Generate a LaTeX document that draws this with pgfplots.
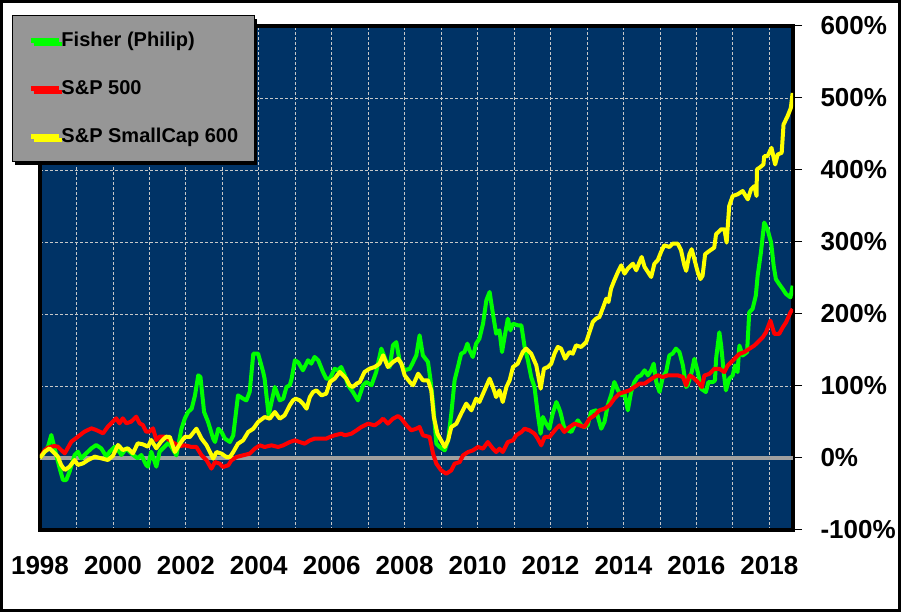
\documentclass[border=0pt]{standalone}
\usepackage{fontspec}
\setmainfont{Liberation Sans}
\usepackage{pgfplots}
\pgfplotsset{compat=1.18}
\usetikzlibrary{shadows}
\definecolor{navy}{RGB}{0,51,102}
\definecolor{leggray}{RGB}{150,150,150}
\definecolor{gridc}{RGB}{200,200,200}
\definecolor{zeroc}{RGB}{160,160,160}
\begin{document}
\begin{tikzpicture}[x=1pt,y=1pt]
\useasboundingbox (0,0) rectangle (901,612);
\draw[line width=3pt] (1.5,1.5) rectangle (899.5,610.5);
\begin{axis}[
  at={(40pt,82pt)}, anchor=south west,
  width=753pt, height=504pt, scale only axis,
  xmin=1998, xmax=2018.65, ymin=-100, ymax=600,
  axis background/.style={fill=navy},
  axis line style={line width=3.5pt},
  xtick={1998,2000,...,2018},
  minor xtick={1999,2001,...,2017},
  ytick={-100,0,...,600},
  grid=both,
  major grid style={gridc, line width=0.8pt, dash pattern=on 3pt off 2pt},
  minor grid style={gridc, line width=0.8pt, dash pattern=on 3pt off 2pt},
  xtick style={draw=none},
  minor tick length=0pt,
  ytick style={black, line width=1pt},
  tick align=outside,
  major tick length=9pt,
  ytick pos=right,
  yticklabel pos=right,
  yticklabel={\pgfmathprintnumber{\tick}\%},
  yticklabel style={anchor=west, xshift=15pt},
  xticklabel style={yshift=-14pt},
  tick label style={font=\bfseries\fontsize{26}{26}\selectfont},
  /pgf/number format/1000 sep={},
  /pgf/number format/assume math mode=true,
  legend cell align=left,
  legend image code/.code={\draw[#1,line width=5pt] (0pt,0pt) -- (28pt,0pt);},
  legend style={at={(-0.0372,1.0218)}, anchor=north west,
    fill=leggray, draw=black, line width=1pt,
    inner xsep=16pt, inner ysep=15.5pt,
    row sep=29pt, column sep=0pt,
    font=\bfseries\fontsize{20}{20}\selectfont,
    nodes={inner sep=0pt, text height=15pt, text depth=4pt},
    drop shadow={shadow xshift=3pt, shadow yshift=-3pt, opacity=1, fill=black}},
  every axis plot/.append style={line width=4pt, line join=round},
]
\addplot[zeroc, line width=4pt, forget plot] coordinates {(1998,0) (2018.65,0)};

\addplot[color={rgb,255:red,0;green,255;blue,0}] table {
1998.00 0
1998.13 8.8
1998.22 15.7
1998.31 32
1998.40 13.4
1998.54 -14.4
1998.63 -30.6
1998.72 -30.6
1998.81 -19
1998.95 4.2
1999.04 8.8
1999.13 -0.5
1999.22 4.2
1999.41 13.4
1999.54 18
1999.68 13.4
1999.82 1.9
1999.91 8.8
2000.05 15.7
2000.14 11
2000.23 4.2
2000.37 13.4
2000.50 6.5
2000.68 -0.5
2000.78 4.2
2000.91 -9.7
2000.96 -12
2001.05 8.8
2001.19 -12
2001.28 8.8
2001.37 13.4
2001.52 21
2001.61 15
2001.74 3.7
2001.88 40.7
2001.97 54.6
2002.06 63.9
2002.16 68.5
2002.25 87
2002.34 114.8
2002.40 112.5
2002.50 63.9
2002.61 50
2002.75 26.9
2002.80 22.2
2002.89 40.7
2002.98 36.1
2003.07 26.9
2003.21 22.2
2003.30 31.5
2003.43 87
2003.57 82.4
2003.66 80
2003.75 91.7
2003.85 145
2003.98 145
2004.12 119.5
2004.16 110
2004.27 59.3
2004.44 98.6
2004.575 80
2004.67 82.4
2004.76 98.6
2004.85 101
2004.90 110
2004.99 135.7
2005.08 133
2005.21 121.8
2005.35 135.7
2005.44 131
2005.53 140.3
2005.63 135.7
2005.76 119.5
2005.85 110.2
2005.95 110.2
2006.08 124
2006.17 121.8
2006.26 126.4
2006.36 114.8
2006.45 101
2006.58 91.7
2006.72 80
2006.86 101
2006.95 105.6
2007.09 101
2007.22 119.5
2007.36 151.9
2007.50 133.3
2007.59 126.4
2007.68 156.5
2007.77 161
2007.86 135.7
2008.00 121.8
2008.14 124
2008.23 133
2008.32 142.6
2008.41 170.4
2008.50 142.6
2008.64 133.3
2008.71 107.9
2008.78 75.5
2008.87 19.9
2008.96 15.3
2009.10 10.6
2009.19 24.5
2009.28 61.6
2009.37 107.9
2009.46 126.4
2009.55 144.9
2009.64 147.2
2009.72 158.8
2009.78 149.5
2009.87 140.3
2009.96 158.8
2010.05 165.8
2010.15 186.6
2010.24 219
2010.33 230.6
2010.42 200.5
2010.51 172.7
2010.60 177.3
2010.67 147.2
2010.74 168
2010.83 193.5
2010.90 177.3
2010.97 186.6
2011.10 184.3
2011.20 184.3
2011.29 154.2
2011.38 135.7
2011.47 112.5
2011.56 98.6
2011.65 61.6
2011.73 33.8
2011.79 57
2011.88 47.7
2011.97 40.7
2012.06 61.6
2012.16 77.8
2012.20 73.2
2012.27 63.9
2012.37 43
2012.475 38.4
2012.57 36.1
2012.66 45.4
2012.75 52.3
2012.84 45.4
2012.93 43
2013.02 45.4
2013.11 63.9
2013.25 66.2
2013.39 40.7
2013.48 50
2013.57 73.2
2013.66 87
2013.75 105.6
2013.85 94
2013.94 87
2014.03 89.4
2014.12 66.2
2014.21 91.7
2014.30 105.6
2014.39 112.5
2014.48 114.8
2014.58 121.8
2014.67 114.8
2014.76 121.8
2014.83 131
2014.90 105.6
2014.99 91.7
2015.08 112.5
2015.17 119.5
2015.26 142.6
2015.35 145
2015.44 151.9
2015.535 147.2
2015.63 128.7
2015.72 98.6
2015.76 100.8
2015.87 119.3
2015.945 137.7
2016.04 119.3
2016.13 96.2
2016.26 91.6
2016.33 105.4
2016.45 105.4
2016.51 107.7
2016.54 137.7
2016.63 174.6
2016.68 156.2
2016.75 119.3
2016.81 93.9
2016.90 110
2016.995 114.6
2017.06 128.5
2017.13 119.3
2017.18 156.2
2017.27 142.3
2017.39 147
2017.45 202.3
2017.54 207
2017.63 225.4
2017.68 253
2017.77 285.4
2017.86 327
2017.95 317.7
2018.05 299.2
2018.12 266.9
2018.18 248.5
2018.27 241.6
2018.37 234.6
2018.46 227.7
2018.58 223.1
2018.64 239.3
};
\addlegendentry{Fisher (Philip)}

\addplot[color={rgb,255:red,255;green,0;blue,0}] table {
1998.00 0
1998.13 11.1
1998.22 14.4
1998.40 16.7
1998.49 15.7
1998.58 11.1
1998.68 6.5
1998.86 22.7
1999.04 29.6
1999.22 36.6
1999.41 41.2
1999.54 38.9
1999.73 34.3
1999.86 43.5
2000.00 50.5
2000.09 55.1
2000.18 48.2
2000.27 55.1
2000.37 48.2
2000.50 50.5
2000.64 57.4
2000.73 48.2
2000.82 45.8
2000.91 36.6
2001.00 36.6
2001.10 41.2
2001.19 25
2001.28 29.6
2001.42 29.6
2001.56 24.5
2001.70 19.9
2001.84 16.7
2001.97 17.6
2002.16 15.3
2002.29 15.3
2002.43 3.7
2002.57 -3.2
2002.70 -14.8
2002.80 -5.6
2002.93 -7.9
2003.02 -12.5
2003.16 -10.2
2003.25 -3.2
2003.39 1.4
2003.57 3.7
2003.75 6
2003.89 13
2004.03 17.6
2004.16 15.3
2004.35 17.6
2004.53 15.3
2004.67 17.6
2004.85 22.2
2004.99 24.5
2005.12 22.2
2005.26 19.9
2005.40 24.5
2005.53 26.9
2005.72 26.9
2005.85 26.9
2005.95 29.2
2006.08 31.5
2006.26 33.8
2006.36 31.5
2006.54 33.8
2006.68 38.4
2006.81 43
2006.995 47.7
2007.18 45.4
2007.31 50
2007.41 54.6
2007.54 47.7
2007.68 54.6
2007.82 58.3
2007.91 54.6
2008.05 45.4
2008.18 38.4
2008.32 40.7
2008.41 43
2008.50 31.5
2008.685 29.2
2008.78 6
2008.87 -7.9
2009.00 -17.1
2009.14 -21.8
2009.28 -17.1
2009.37 -7.9
2009.51 -5.6
2009.60 3.7
2009.74 8.3
2009.87 10.6
2010.01 15.3
2010.15 13
2010.28 22.2
2010.42 13
2010.51 8.3
2010.60 13
2010.69 8.3
2010.83 22.2
2010.97 24.5
2011.06 31.5
2011.20 36.1
2011.29 40.7
2011.425 38.4
2011.56 33.8
2011.65 26.9
2011.745 17.6
2011.84 29.2
2011.97 29.2
2012.155 40.7
2012.25 45.4
2012.38 36.1
2012.52 43
2012.66 47.7
2012.795 45.4
2012.93 43
2013.07 54.6
2013.21 59.3
2013.34 66.2
2013.48 68.5
2013.62 73.2
2013.75 82.4
2013.89 89.4
2014.03 91.7
2014.165 94
2014.30 98.6
2014.44 103.2
2014.58 103.2
2014.71 107.9
2014.85 112.5
2014.94 114.8
2015.08 112.5
2015.22 114.8
2015.35 114.8
2015.49 114.8
2015.63 112.5
2015.72 100.9
2015.81 114.6
2015.90 112.3
2016.04 105.4
2016.15 98.5
2016.22 114.6
2016.36 116.9
2016.49 123.9
2016.63 123.9
2016.77 119.3
2016.86 128.5
2016.995 135.4
2017.18 144.6
2017.31 147
2017.45 151.6
2017.59 156.2
2017.73 163.1
2017.82 167.7
2017.91 174.6
2018.03 190.8
2018.14 172.3
2018.27 172.3
2018.37 181.6
2018.46 188.5
2018.58 202.3
2018.64 207
};
\addlegendentry{S\&P 500}

\addplot[color={rgb,255:red,255;green,255;blue,0}] table {
1998.00 0
1998.13 8.8
1998.26 13.4
1998.40 6.5
1998.49 1.9
1998.58 -9.7
1998.68 -16.7
1998.81 -12
1998.95 -2.8
1999.04 -9.7
1999.18 -7.4
1999.32 -2.8
1999.50 1.9
1999.68 -0.5
1999.86 -2.8
2000.00 3.2
2000.14 18.1
2000.27 11.1
2000.41 13.4
2000.55 6.5
2000.68 20.4
2000.82 19
2000.96 15.7
2001.05 25
2001.19 13.4
2001.32 22.7
2001.46 29.6
2001.56 29.2
2001.70 8.3
2001.84 19.9
2001.97 29.2
2002.11 29.2
2002.29 40.7
2002.43 26.9
2002.57 17.6
2002.75 -0.9
2002.84 8.3
2002.98 6
2003.11 1.4
2003.21 1.4
2003.30 8.3
2003.43 19.9
2003.57 24.5
2003.71 36.1
2003.85 40.7
2003.98 50
2004.16 56.9
2004.30 54.6
2004.44 63.9
2004.575 54.6
2004.71 59.3
2004.85 73.2
2004.94 80.1
2005.01 82.4
2005.12 80.1
2005.21 75.5
2005.31 68.5
2005.40 84.7
2005.49 91.7
2005.58 94
2005.72 87
2005.85 89.4
2005.95 105.6
2006.08 110.2
2006.22 119.5
2006.31 114.8
2006.40 110.2
2006.49 101
2006.58 98.6
2006.68 103.2
2006.77 105.6
2006.90 119.5
2007.04 124.1
2007.18 126.4
2007.31 131
2007.41 142.6
2007.54 126.4
2007.68 133.3
2007.82 138
2007.91 131
2008.00 114.8
2008.14 105.6
2008.23 101
2008.37 117.1
2008.50 107.9
2008.64 107.9
2008.73 94
2008.80 56.9
2008.90 33.8
2009.00 24.5
2009.10 15.3
2009.19 24.5
2009.28 43
2009.42 47.7
2009.55 61.6
2009.69 75.5
2009.83 66.2
2009.96 82.4
2010.05 77.8
2010.19 94
2010.33 110.2
2010.42 98.6
2010.51 84.7
2010.60 94
2010.69 77.8
2010.79 98.6
2010.88 107.9
2010.97 126.4
2011.10 131
2011.24 147.2
2011.33 151.9
2011.47 144.9
2011.61 128.7
2011.73 96.3
2011.82 124.1
2011.93 126.4
2012.02 131
2012.11 144.9
2012.20 154.2
2012.29 151.9
2012.40 138
2012.52 147.2
2012.61 144.9
2012.70 156.5
2012.84 154.2
2012.98 161.1
2013.07 175
2013.16 188.9
2013.25 193.5
2013.34 195.8
2013.43 207.4
2013.53 221.3
2013.59 216.7
2013.66 235.2
2013.75 246.8
2013.85 258.4
2013.94 267.6
2014.03 256
2014.12 263
2014.26 269.9
2014.35 260.7
2014.44 272.2
2014.50 279.2
2014.58 265.3
2014.67 258.4
2014.76 251.4
2014.85 269.9
2014.94 274.6
2015.03 286.1
2015.12 295.4
2015.26 293.1
2015.35 297.7
2015.49 297.7
2015.58 288.4
2015.67 267.6
2015.72 260
2015.81 283.1
2015.87 290
2015.945 276.2
2016.04 257.7
2016.11 248.5
2016.17 253.1
2016.24 283.1
2016.36 287.7
2016.49 292.3
2016.54 310.8
2016.68 317.7
2016.77 317.7
2016.83 299.2
2016.90 350
2016.995 363.9
2017.13 366.2
2017.27 370.8
2017.41 359.2
2017.50 373.1
2017.59 377.7
2017.65 363.9
2017.66 400.8
2017.73 403.1
2017.84 407.7
2017.86 419.2
2017.95 419.2
2018.06 430.8
2018.16 407.7
2018.23 421.5
2018.34 423.9
2018.39 463.1
2018.50 474.6
2018.59 486.2
2018.64 507
};
\addlegendentry{S\&P SmallCap 600}
\end{axis}
\end{tikzpicture}
\end{document}
